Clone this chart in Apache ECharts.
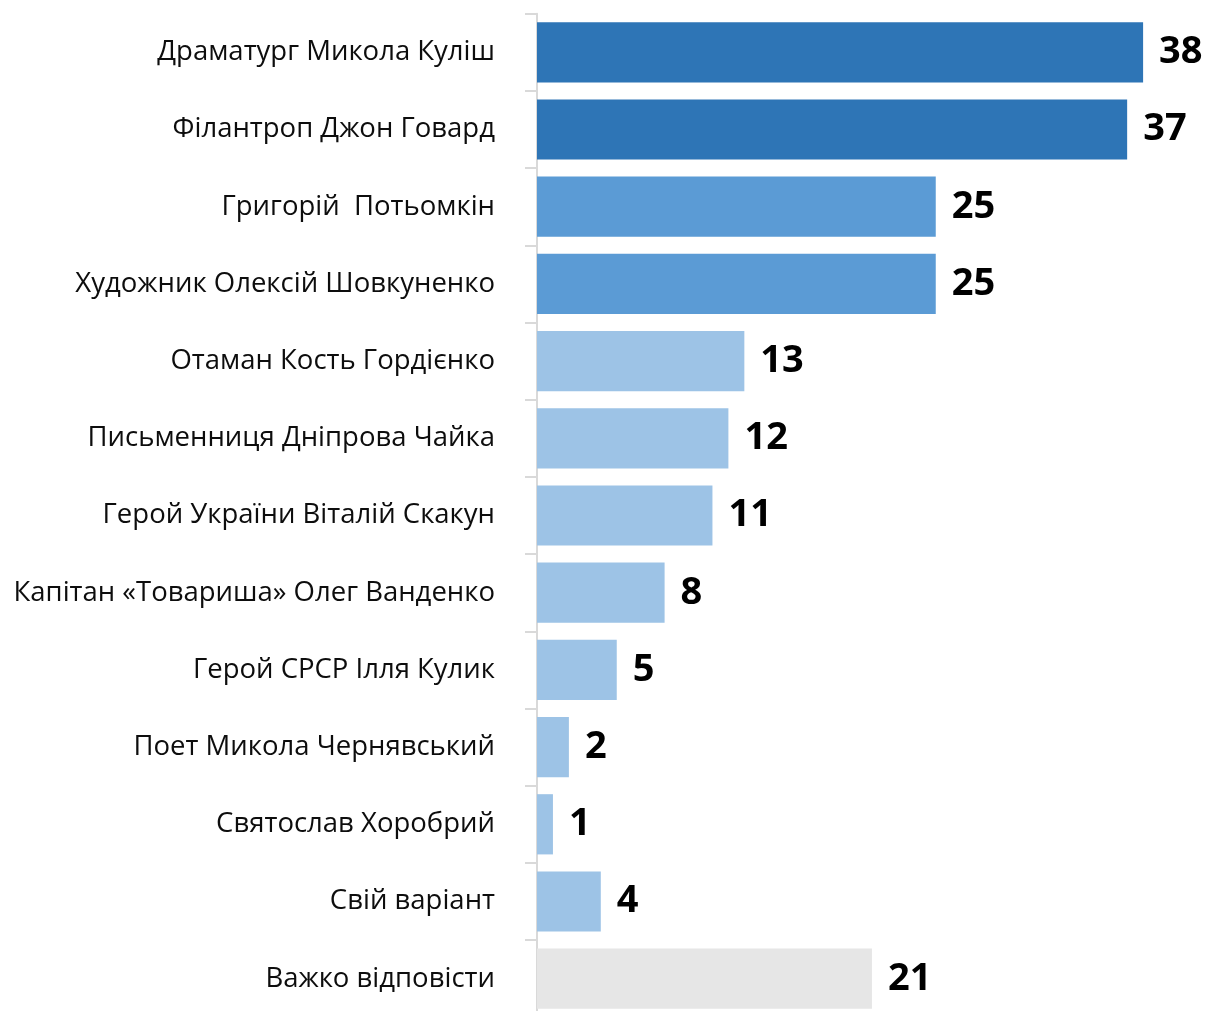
<!DOCTYPE html>
<html>
<head>
<meta charset="utf-8">
<script src="https://cdn.jsdelivr.net/npm/echarts@6/dist/echarts.min.js"></script>
<style>
  html, body { margin: 0; padding: 0; background: #fff; }
  #chart { width: 1210px; height: 1011px; }
</style>
</head>
<body>
<div id="chart"></div>
<script>
const categories = [
  'Драматург Микола Куліш',
  'Філантроп Джон Говард',
  'Григорій  Потьомкін',
  'Художник Олексій Шовкуненко',
  'Отаман Кость Гордієнко',
  'Письменниця Дніпрова Чайка',
  'Герой України Віталій Скакун',
  'Капітан «Товариша» Олег Ванденко',
  'Герой СРСР Ілля Кулик',
  'Поет Микола Чернявський',
  'Святослав Хоробрий',
  'Свій варіант',
  'Важко відповісти'
]
const values = [38, 37, 25, 25, 13, 12, 11, 8, 5, 2, 1, 4, 21]
// colour group per bar: 0 = top, 1 = middle, 2 = rest, 3 = no answer
const groups = [0, 0, 1, 1, 2, 2, 2, 2, 2, 2, 2, 2, 3]
const groupColors = ['#2e75b6', '#5b9bd5', '#9dc3e6', '#e6e6e6']

const chart = echarts.init(document.getElementById('chart'))
chart.setOption({
  animation: false,
  grid: { left: 537, right: 35, top: 13.7, height: 1003.6, outerBoundsMode: 'none', containLabel: false },
  xAxis: {
    type: 'value',
    min: 0,
    max: 40,
    show: false
  },
  yAxis: {
    type: 'category',
    inverse: true,
    data: categories,
    offset: 2,
    axisLine: { show: true, lineStyle: { color: '#d9d9d9', width: 2 } },
    axisTick: { show: true, length: 12, lineStyle: { color: '#d9d9d9', width: 2 } },
    axisLabel: {
      margin: 40,
      color: '#0d0d0d',
      fontFamily: 'Open Sans',
      fontSize: 27.5,
      padding: [0, 0, 12, 0]
    }
  },
  series: [{
    type: 'bar',
    barCategoryGap: '22%',
    data: values.map((v, i) => ({
      value: v,
      itemStyle: { color: groupColors[groups[i]] }
    })),
    label: {
      show: true,
      position: 'right',
      distance: 16,
      color: '#000',
      fontFamily: 'Open Sans',
      fontWeight: 'bold',
      fontSize: 38
    }
  }]
})
</script>
</body>
</html>
